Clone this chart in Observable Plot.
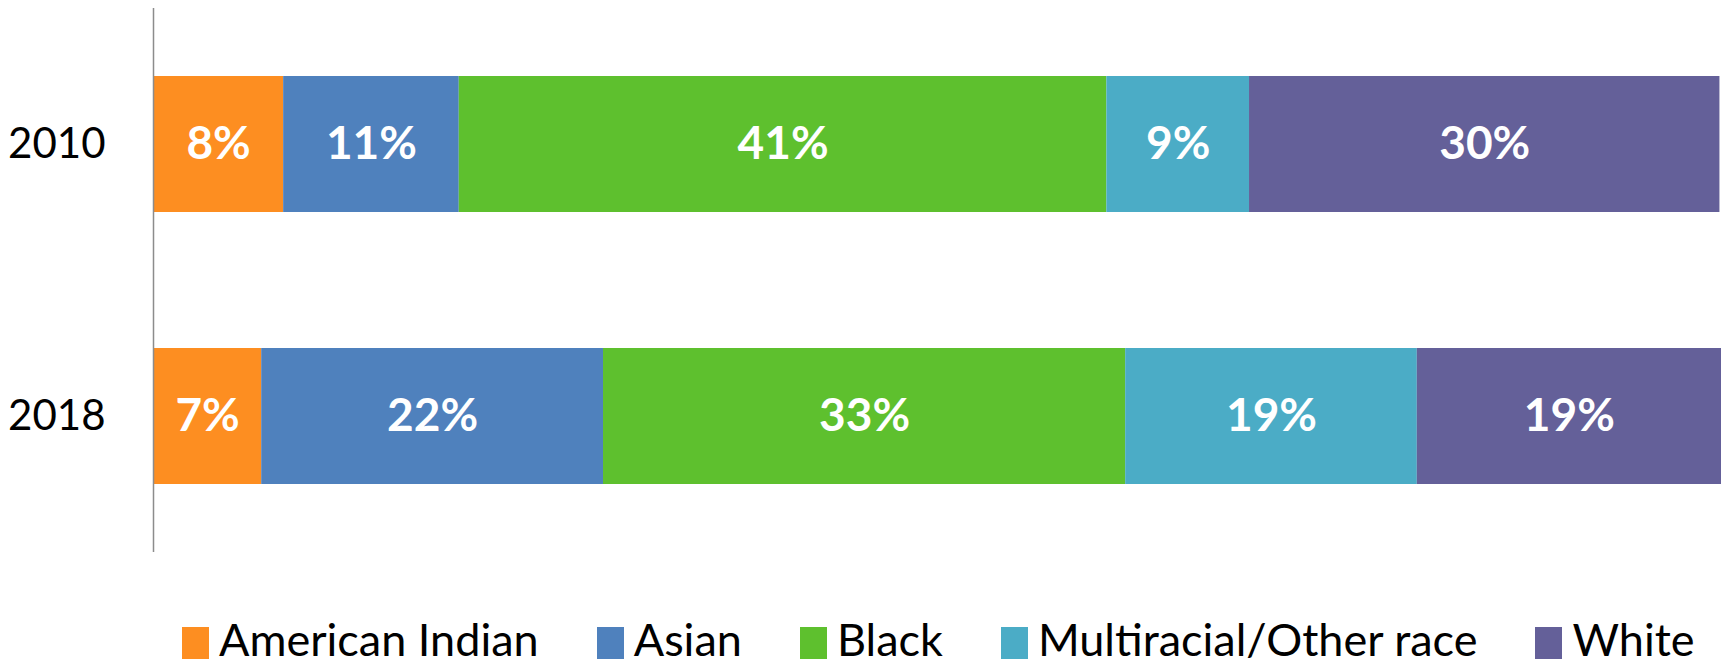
<!DOCTYPE html>
<html>
<head>
<meta charset="utf-8">
<script src="https://cdn.jsdelivr.net/npm/d3@7"></script>
<script src="https://cdn.jsdelivr.net/npm/@observablehq/plot@0.6"></script>
<style>
  html, body { margin: 0; padding: 0; background: #fff; overflow: hidden; }
  #chart { width: 1723px; height: 661px; position: relative; font-family: Lato, "Open Sans", sans-serif; }
  #legend { display: flex; align-items: center; height: 61px; padding-left: 182px; padding-top: 16px; box-sizing: border-box; }
  .item { display: flex; align-items: center; margin-right: 58px; }
  .sw { width: 27px; height: 32px; margin-right: 10px; margin-top: 8px; }
  .lab { font-size: 45px; color: #000; white-space: nowrap; }
</style>
</head>
<body>
<div id="chart"></div>
<script>
const years = ["2010", "2018"];
const categories = ["American Indian", "Asian", "Black", "Multiracial/Other race", "White"];
const colors = ["#FD8E21", "#4F81BD", "#5EC02E", "#4BACC6", "#646099"];
const values2010 = [8.3, 11.2, 41.3, 9.1, 30.0];
const values2018 = [6.9, 21.8, 33.3, 18.6, 19.4];

const seriesByYear = {"2010": values2010, "2018": values2018};
const data = [];
for (const y of years) {
  categories.forEach((c, i) => data.push({year: y, cat: c, value: seriesByYear[y][i]}));
}

const plot = Plot.plot({
  width: 1723,
  height: 600,
  marginLeft: 153,
  marginRight: 2,
  marginTop: 8,
  marginBottom: 48,
  style: {fontFamily: "Lato, 'Open Sans', sans-serif", background: "#fff"},
  x: {domain: [0, 100], axis: null},
  y: {domain: years, paddingInner: 0.5, paddingOuter: 0.25, label: null, tickSize: 0, tickPadding: 46},
  color: {domain: categories, range: colors},
  marks: [
    Plot.barX(data, Plot.stackX({x: "value", y: "year", fill: "cat", order: null})),
    Plot.text(data, Plot.stackX({x: "value", y: "year", order: null,
      text: d => Math.round(d.value) + "%", fill: "#fff", fontSize: 46, fontWeight: "bold"})),
    Plot.ruleX([0], {stroke: "#8c8c8c", strokeWidth: 1.5}),
    Plot.axisY({tickSize: 0, tickPadding: 48, fontSize: 42, label: null, color: "#000"})
  ]
});
document.getElementById("chart").appendChild(plot);

const legend = document.createElement("div");
legend.id = "legend";
categories.forEach((c, i) => {
  const item = document.createElement("div");
  item.className = "item";
  const sw = document.createElement("div");
  sw.className = "sw";
  sw.style.background = colors[i];
  const lab = document.createElement("span");
  lab.className = "lab";
  lab.textContent = c;
  item.appendChild(sw);
  item.appendChild(lab);
  legend.appendChild(item);
});
document.getElementById("chart").appendChild(legend);
</script>
</body>
</html>
